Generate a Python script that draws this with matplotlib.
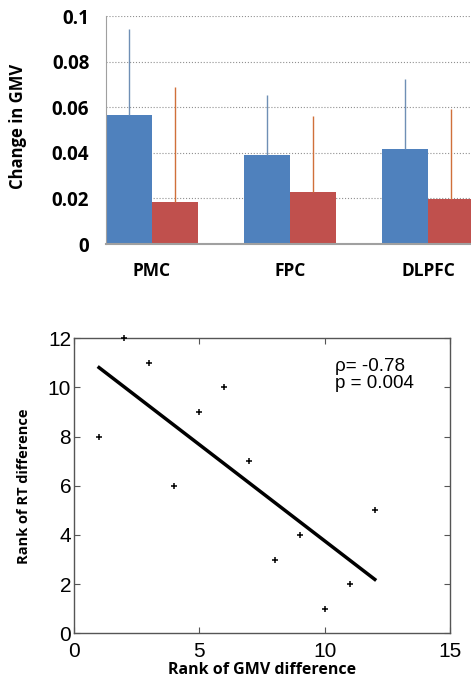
import matplotlib
matplotlib.use('Agg')
import matplotlib.pyplot as plt
import numpy as np

# bar chart data
regions = ['PMC', 'FPC', 'DLPFC']
blue_vals = [0.0566, 0.0391, 0.0415]
blue_err = [0.0379, 0.0263, 0.0309]
red_vals = [0.0185, 0.0227, 0.0199]
red_err = [0.0504, 0.0334, 0.0394]

# scatter data (ranks)
gmv_rank = [1, 2, 3, 4, 5, 6, 7, 8, 9, 10, 11, 12]
rt_rank = [8, 12, 11, 6, 9, 10, 7, 3, 4, 1, 2, 5]
stats_text = 'ρ= -0.78\np = 0.004'

fig = plt.figure(figsize=(4.71, 6.82), dpi=100)

# ---- top: bar chart ----
ax1 = fig.add_axes([0.225, 0.6422, 0.775, 0.3343])
x = np.arange(len(regions))
w = 0.333
ax1.bar(x - w / 2, blue_vals, w, color='#4F81BD', zorder=2)
ax1.bar(x + w / 2, red_vals, w, color='#C0504D', zorder=2)
ax1.errorbar(x - w / 2, blue_vals, yerr=[np.zeros(3), blue_err], fmt='none',
             ecolor='#6f8fb5', elinewidth=1.0, capsize=0, zorder=3)
ax1.errorbar(x + w / 2, red_vals, yerr=[np.zeros(3), red_err], fmt='none',
             ecolor='#d0703a', elinewidth=1.0, capsize=0, zorder=3)
ax1.set_xlim(-0.333, 2.31)
ax1.set_ylim(0, 0.1)
ax1.set_yticks([0, 0.02, 0.04, 0.06, 0.08, 0.1])
ax1.set_yticklabels(['0', '0.02', '0.04', '0.06', '0.08', '0.1'])
ax1.set_xticks(x)
ax1.set_xticklabels(regions)
ax1.yaxis.grid(True, linestyle=':', color='#909090', linewidth=0.8, zorder=0)
ax1.tick_params(axis='both', length=0)
ax1.tick_params(axis='y', pad=12)
ax1.tick_params(axis='x', pad=13)
for lab in ax1.get_yticklabels():
    lab.set_fontfamily('Open Sans')
    lab.set_fontweight('bold')
    lab.set_fontsize(13.5)
for lab in ax1.get_xticklabels():
    lab.set_fontfamily('Open Sans')
    lab.set_fontweight('bold')
    lab.set_fontsize(12.5)
ax1.spines['top'].set_visible(False)
ax1.spines['right'].set_visible(False)
ax1.spines['left'].set_color('#a0a0a0')
ax1.spines['bottom'].set_color('#a0a0a0')
ax1.spines['bottom'].set_linewidth(1.5)
fig.text(0.038, 0.6422 + 0.3343 / 2 + 0.005, 'Change in GMV', rotation=90,
         ha='center', va='center', fontsize=12, fontweight='bold',
         family='Open Sans')

# ---- bottom: scatter with fit ----
ax2 = fig.add_axes([0.1571, 0.0714, 0.7983, 0.4326])
ax2.plot(gmv_rank, rt_rank, linestyle='none', marker='+',
         markersize=5, color='black', markeredgewidth=1.1, clip_on=False,
         zorder=4)
slope, intercept = np.polyfit(gmv_rank, rt_rank, 1)
xf = np.array([min(gmv_rank), max(gmv_rank)])
ax2.plot(xf, slope * xf + intercept, color='black', linewidth=2.5)
ax2.set_xlim(0, 15)
ax2.set_ylim(0, 12)
ax2.set_xticks([0, 5, 10, 15])
ax2.set_yticks([0, 2, 4, 6, 8, 10, 12])
ax2.tick_params(direction='in', top=True, right=True, length=4,
                labelsize=15, color='#555555')
for lab in ax2.get_xticklabels() + ax2.get_yticklabels():
    lab.set_fontfamily('Liberation Sans')
ax2.tick_params(axis='x', pad=6)
ax2.tick_params(axis='y', pad=2)
for s in ax2.spines.values():
    s.set_color('#555555')
    s.set_linewidth(1.0)
ax2.text(10.4, 11.2, stats_text, fontsize=13.5, family='Liberation Sans',
         va='top', ha='left', linespacing=1.0)
ax2.set_xlabel('Rank of GMV difference', fontsize=11.5, fontweight='bold',
               family='Open Sans', labelpad=1)
ax2.set_ylabel('Rank of RT difference', fontsize=10.5, fontweight='bold',
               family='Open Sans', labelpad=12)

fig.savefig('out.png', dpi=100)
